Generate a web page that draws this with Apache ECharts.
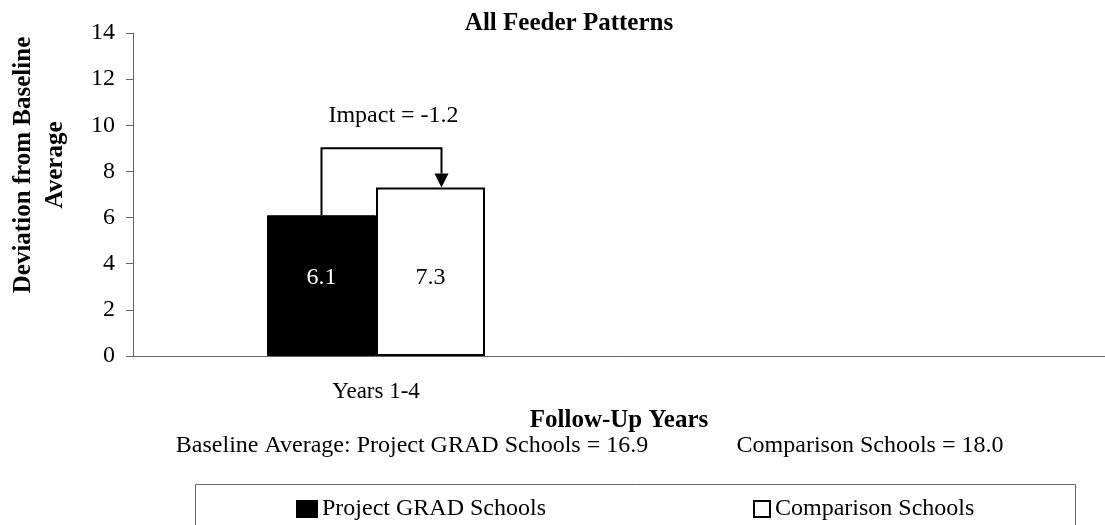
<!DOCTYPE html>
<html>
<head>
<meta charset="utf-8">
<script src="https://cdn.jsdelivr.net/npm/echarts@6/dist/echarts.min.js"></script>
<style>
  html, body { margin: 0; padding: 0; background: #fff; }
  #board { width: 1105px; height: 525px; }
</style>
</head>
<body>
<div id="board"></div>
<script>
// data
const categories = ['Years 1-4', ''];
const gradValues = [6.1, null];
const compValues = [7.3, null];
const seriesNames = ['Project GRAD Schools', 'Comparison Schools'];
const yTicks = { min: 0, max: 14, interval: 2 };
const impactText = 'Impact = -1.2';
const impactTop = 9;      // height of the connector bracket
const impactLabelAt = 10.4;
const baselineNotes = ['Baseline Average: Project GRAD Schools = 16.9', 'Comparison Schools = 18.0'];

const FONT = 'Liberation Serif';
const AXIS = '#666';
const BAR_W = 109;

let chart = echarts.init(document.getElementById('board'));

chart.setOption({
  animation: false,
  textStyle: { fontFamily: FONT, color: '#000' },
  title: {
    text: 'All Feeder Patterns',
    left: 564, top: 6, textAlign: 'center',
    textStyle: { fontFamily: FONT, fontSize: 25, fontWeight: 'bold', color: '#000' }
  },
  grid: { left: 133, top: 33, width: 980, height: 323 },
  legend: [
    {
      data: [seriesNames[0]], left: 296, top: 497, padding: 0,
      itemWidth: 20, itemHeight: 16, icon: 'rect',
      textStyle: { fontFamily: FONT, fontSize: 24, color: '#000' }
    },
    {
      data: [seriesNames[1]], left: 753, top: 497, padding: 0,
      itemWidth: 16, itemHeight: 16, icon: 'rect',
      textStyle: { fontFamily: FONT, fontSize: 24, color: '#000' }
    }
  ],
  xAxis: {
    type: 'category',
    data: categories,
    name: 'Follow-Up Years',
    nameLocation: 'middle',
    nameGap: 49,
    nameTextStyle: { fontFamily: FONT, fontSize: 25, fontWeight: 'bold', color: '#000' },
    axisLine: { lineStyle: { color: AXIS, width: 1 } },
    axisTick: { length: 8, lineStyle: { color: AXIS } },
    axisLabel: { margin: 24, fontFamily: FONT, fontSize: 23, color: '#000' },
    splitLine: { show: false }
  },
  yAxis: {
    type: 'value',
    min: yTicks.min, max: yTicks.max, interval: yTicks.interval,
    axisLine: { show: true, lineStyle: { color: AXIS, width: 1 } },
    axisTick: { show: true, length: 7, lineStyle: { color: AXIS } },
    axisLabel: { margin: 18, fontFamily: FONT, fontSize: 24, color: '#000' },
    splitLine: { show: false }
  },
  series: [
    {
      name: seriesNames[0], type: 'bar', data: gradValues,
      barWidth: BAR_W, barGap: '0%',
      itemStyle: { color: '#000', borderColor: '#000', borderWidth: 1 },
      label: { show: true, position: 'insideBottom', distance: 66,
        fontFamily: FONT, fontSize: 24, color: '#fff' }
    },
    {
      name: seriesNames[1], type: 'bar', data: compValues,
      barWidth: BAR_W, barGap: '0%',
      itemStyle: { color: '#fff', borderColor: '#000', borderWidth: 2 },
      label: { show: true, position: 'insideBottom', distance: 66,
        fontFamily: FONT, fontSize: 24, color: '#000' }
    }
  ]
});

// impact bracket, placed from data values through the axis scales
function drawExtras() {
  let c = chart.convertToPixel({ gridIndex: 0 }, [categories[0], impactTop]);
  let xa = c[0] - BAR_W / 2;
  let xb = c[0] + BAR_W / 2 + 11;
  let yTop = c[1];
  let yA = chart.convertToPixel({ gridIndex: 0 }, [categories[0], gradValues[0]])[1];
  let yB = chart.convertToPixel({ gridIndex: 0 }, [categories[0], compValues[0]])[1];
  let yLab = chart.convertToPixel({ gridIndex: 0 }, [categories[0], impactLabelAt])[1];
  let head = 14;

  chart.setOption({
    graphic: [
      { type: 'polyline', shape: { points: [[xa, yA], [xa, yTop], [xb, yTop], [xb, yB - head]] },
        style: { stroke: '#000', lineWidth: 2, fill: null } },
      { type: 'polygon', shape: { points: [[xb - 7, yB - head], [xb + 7, yB - head], [xb, yB]] },
        style: { fill: '#000' } },
      { type: 'text', x: (xa + xb) / 2 + 12, y: yLab,
        style: { text: impactText, font: '24px "' + FONT + '"', fill: '#000',
          textAlign: 'center', textVerticalAlign: 'middle' } },
      { type: 'text', x: 40, y: 165, rotation: Math.PI / 2,
        style: { text: 'Deviation from Baseline\nAverage', font: 'bold 25px "' + FONT + '"',
          fill: '#000', textAlign: 'center', textVerticalAlign: 'middle', lineHeight: 32 } },
      { type: 'text', x: 412, y: 446,
        style: { text: baselineNotes[0], font: '24px "' + FONT + '"', fill: '#000',
          textAlign: 'center', textVerticalAlign: 'middle' } },
      { type: 'text', x: 870, y: 446,
        style: { text: baselineNotes[1], font: '24px "' + FONT + '"', fill: '#000',
          textAlign: 'center', textVerticalAlign: 'middle' } },
      { type: 'rect', shape: { x: 195.5, y: 484.5, width: 880, height: 60 },
        style: { fill: null, stroke: AXIS, lineWidth: 1 }, z: -1 }
    ]
  });
}
drawExtras();
</script>
</body>
</html>
